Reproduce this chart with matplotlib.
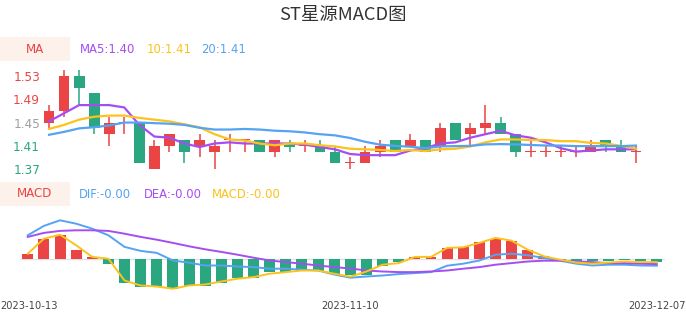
import matplotlib
matplotlib.use("Agg")
import matplotlib.pyplot as plt
from matplotlib.patches import Rectangle
import numpy as np

W, H = 686, 320

# daily candles, 2023-10-13 .. 2023-12-07
opens = [1.45, 1.47, 1.53, 1.50, 1.43, 1.45, 1.45, 1.37, 1.41, 1.42,
         1.41, 1.40, 1.42, 1.42, 1.42, 1.40, 1.412, 1.41, 1.41, 1.40,
         1.38, 1.38, 1.40, 1.42, 1.41, 1.42, 1.41, 1.45, 1.43, 1.44,
         1.45, 1.43, 1.40, 1.40, 1.40, 1.40, 1.40, 1.42, 1.41, 1.40]
closes = [1.47, 1.53, 1.51, 1.44, 1.45, 1.45, 1.38, 1.41, 1.43, 1.40,
          1.42, 1.41, 1.42, 1.42, 1.40, 1.42, 1.408, 1.41, 1.40, 1.38,
          1.38, 1.40, 1.41, 1.40, 1.42, 1.40, 1.44, 1.42, 1.44, 1.45,
          1.43, 1.40, 1.40, 1.40, 1.40, 1.40, 1.41, 1.41, 1.40, 1.40]
highs = [1.48, 1.54, 1.54, 1.50, 1.46, 1.46, 1.45, 1.42, 1.43, 1.42,
         1.43, 1.42, 1.43, 1.42, 1.42, 1.42, 1.42, 1.42, 1.42, 1.41,
         1.39, 1.41, 1.42, 1.42, 1.43, 1.42, 1.45, 1.45, 1.45, 1.48,
         1.46, 1.43, 1.42, 1.41, 1.41, 1.41, 1.42, 1.42, 1.42, 1.41]
lows = [1.44, 1.46, 1.48, 1.43, 1.41, 1.43, 1.38, 1.37, 1.40, 1.38,
        1.39, 1.37, 1.40, 1.40, 1.40, 1.39, 1.40, 1.40, 1.40, 1.38,
        1.37, 1.38, 1.39, 1.40, 1.41, 1.40, 1.40, 1.42, 1.41, 1.43,
        1.43, 1.39, 1.39, 1.39, 1.39, 1.39, 1.40, 1.40, 1.40, 1.38]

ma5 = [1.452, 1.466, 1.480, 1.480, 1.480, 1.476, 1.446, 1.426, 1.424, 1.414,
       1.408, 1.414, 1.416, 1.414, 1.414, 1.414, 1.414, 1.412, 1.408, 1.404,
       1.396, 1.394, 1.394, 1.394, 1.402, 1.406, 1.414, 1.416, 1.424, 1.430,
       1.436, 1.428, 1.424, 1.416, 1.406, 1.400, 1.402, 1.404, 1.404, 1.404]
ma10 = [1.439, 1.446, 1.455, 1.460, 1.462, 1.462, 1.458, 1.455, 1.452, 1.447,
        1.442, 1.430, 1.421, 1.419, 1.414, 1.411, 1.414, 1.414, 1.411, 1.409,
        1.405, 1.404, 1.403, 1.401, 1.403, 1.401, 1.404, 1.405, 1.409, 1.416,
        1.421, 1.421, 1.420, 1.420, 1.418, 1.418, 1.415, 1.414, 1.410, 1.405]
ma20 = [1.429, 1.434, 1.440, 1.442, 1.445, 1.450, 1.450, 1.449, 1.448, 1.446,
        1.441, 1.438, 1.438, 1.439, 1.438, 1.436, 1.435, 1.433, 1.430, 1.428,
        1.4235, 1.417, 1.412, 1.410, 1.4085, 1.406, 1.409, 1.4095, 1.410, 1.4125,
        1.413, 1.4125, 1.4115, 1.4105, 1.4105, 1.4095, 1.4095, 1.4095, 1.4095, 1.4105]

dif = [0.0117, 0.0164, 0.0192, 0.0175, 0.0150, 0.0117, 0.0059, 0.0039, 0.0029, -0.0009,
       -0.0020, -0.0034, -0.0034, -0.0039, -0.0042, -0.0050, -0.0050, -0.0055, -0.0059, -0.0079,
       -0.0095, -0.0089, -0.0084, -0.0077, -0.0072, -0.0067, -0.0035, -0.0025, -0.0009, 0.0020,
       0.0025, 0.0017, 0.0004, -0.0010, -0.0025, -0.0034, -0.0030, -0.0030, -0.0034, -0.0035]
dea = [0.0109, 0.0129, 0.0139, 0.0142, 0.0142, 0.0139, 0.0125, 0.0109, 0.0095, 0.0079,
       0.0062, 0.0047, 0.0034, 0.0020, 0.0005, -0.0009, -0.0017, -0.0025, -0.0034, -0.0042,
       -0.0049, -0.0059, -0.0064, -0.0067, -0.0067, -0.0064, -0.0059, -0.0050, -0.0042, -0.0030,
       -0.0022, -0.0014, -0.0010, -0.0010, -0.0014, -0.0017, -0.0022, -0.0022, -0.0025, -0.0027]
macd = [0.0025, 0.0100, 0.0120, 0.0067, 0.0009, 0.0000, -0.0109, -0.0134, -0.0139, -0.0150,
        -0.0134, -0.0129, -0.0114, -0.0100, -0.0092, -0.0075, -0.0067, -0.0059, -0.0059, -0.0075,
        -0.0090, -0.0064, -0.0030, -0.0022, 0.0009, 0.0009, 0.0054, 0.0057, 0.0079, 0.0104,
        0.0090, 0.0045, 0.0012, -0.0005, -0.0019, -0.0025, -0.0019, -0.0014, -0.0017, -0.0017]
hist = [0.0022, 0.0100, 0.0117, 0.0045, 0.0009, -0.0025, -0.0120, -0.0142, -0.0142, -0.0150,
        -0.0137, -0.0134, -0.0120, -0.0095, -0.0095, -0.0067, -0.0067, -0.0059, -0.0059, -0.0075,
        -0.0082, -0.0080, -0.0034, -0.0017, 0.0010, 0.0008, 0.0054, 0.0057, 0.0082, 0.0099,
        0.0090, 0.0042, 0.0012, -0.0005, -0.0010, -0.0010, -0.0009, -0.0007, -0.0009, -0.0014]

price_ticks = [1.53, 1.49, 1.45, 1.41, 1.37]
date_labels = ["2023-10-13", "2023-11-10", "2023-12-07"]

RED = "#eb4444"
GREEN = "#2aa781"
PURPLE = "#a64df2"
YELLOW = "#fbc31b"
BLUE = "#55a3f3"
BOX = "#fdf1ec"


def fx(x):
    return x / W


def fy(y):
    return 1 - y / H


fig = plt.figure(figsize=(W / 100, H / 100), dpi=100)

# ---- candle panel
ax1 = fig.add_axes([fx(41.5), fy(178), 602 / W, 112 / H])
n = len(opens)
x = np.arange(n)
o = np.array(opens)
c = np.array(closes)
up = c >= o
cols = [RED if u else GREEN for u in up]

ax1.vlines(x, lows, highs, colors=cols, linewidth=1.1, zorder=2)
body = np.maximum(np.abs(c - o), 0.0018)
ax1.bar(x, body, bottom=np.minimum(o, c), width=0.72, color=cols,
        linewidth=0, zorder=3)

ax1.plot(x, ma5, color=PURPLE, lw=1.6, zorder=4, solid_joinstyle="round")
ax1.plot(x, ma10, color=YELLOW, lw=1.6, zorder=4, solid_joinstyle="round")
ax1.plot(x, ma20, color=BLUE, lw=1.6, zorder=4, solid_joinstyle="round")

ax1.set_xlim(-0.5, n - 0.5)
ax1.set_ylim(1.53 - 102 / 582, 1.53 + 10 / 582)
ax1.set_yticks(price_ticks)
ax1.set_yticklabels([f"{t:.2f}" for t in price_ticks], fontsize=8.7)
tick_cols = [RED, RED, "#a0a0a0", GREEN, GREEN]
for lab, col in zip(ax1.get_yticklabels(), tick_cols):
    lab.set_color(col)
ax1.tick_params(axis="y", length=0, pad=1)
ax1.set_xticks([])
for s in ax1.spines.values():
    s.set_visible(False)

# ---- macd panel
ax2 = fig.add_axes([fx(19.7), fy(298), 645.2 / W, 88 / H])
hcols = [RED if v >= 0 else GREEN for v in hist]
ax2.axhline(0, color="#e2e2e2", lw=1, zorder=1)
ax2.bar(x, hist, width=0.68, color=hcols, linewidth=0, zorder=2)
ax2.plot(x, dif, color=BLUE, lw=1.4, zorder=3)
ax2.plot(x, dea, color=PURPLE, lw=1.4, zorder=3)
ax2.plot(x, macd, color=YELLOW, lw=1.4, zorder=4)
ax2.set_xlim(-0.5, n - 0.5)
ax2.set_ylim(-(298 - 258.7) * 0.0005, (258.7 - 210) * 0.0005)
ax2.set_xticks([])
ax2.set_yticks([])
for s in ax2.spines.values():
    s.set_visible(False)

# ---- title and legends
fig.text(0.5, fy(15), "ST星源MACD图", ha="center", va="center",
         fontsize=13.2, color="#333333",
         family=["Noto Sans CJK SC", "DejaVu Sans"])

for ytop, label in [(37.3, "MA"), (181.7, "MACD")]:
    fig.add_artist(Rectangle((0, fy(ytop + 24)), fx(70), 24 / H,
                             transform=fig.transFigure, color=BOX, lw=0))
    fig.text(fx(35), fy(ytop + 12), label, ha="center", va="center",
             fontsize=8.6, color=RED)

legend_ma = [(80, "MA5:1.40", PURPLE), (146.5, "10:1.41", YELLOW),
             (201, "20:1.41", BLUE)]
for xp, t, col in legend_ma:
    fig.text(fx(xp), fy(49.5), t, ha="left", va="center", fontsize=8.4,
             color=col)

legend_macd = [(79, "DIF:-0.00", BLUE), (143.5, "DEA:-0.00", PURPLE),
               (212, "MACD:-0.00", YELLOW)]
for xp, t, col in legend_macd:
    fig.text(fx(xp), fy(194), t, ha="left", va="center", fontsize=8.4,
             color=col)

# ---- date labels
fig.text(0, fy(306), date_labels[0], ha="left", va="center",
         fontsize=7.1, color="#444444")
fig.text(fx(350.5), fy(306), date_labels[1], ha="center", va="center",
         fontsize=7.1, color="#444444")
fig.text(1, fy(306), date_labels[2], ha="right", va="center",
         fontsize=7.1, color="#444444")

fig.savefig("out.png", dpi=100)
